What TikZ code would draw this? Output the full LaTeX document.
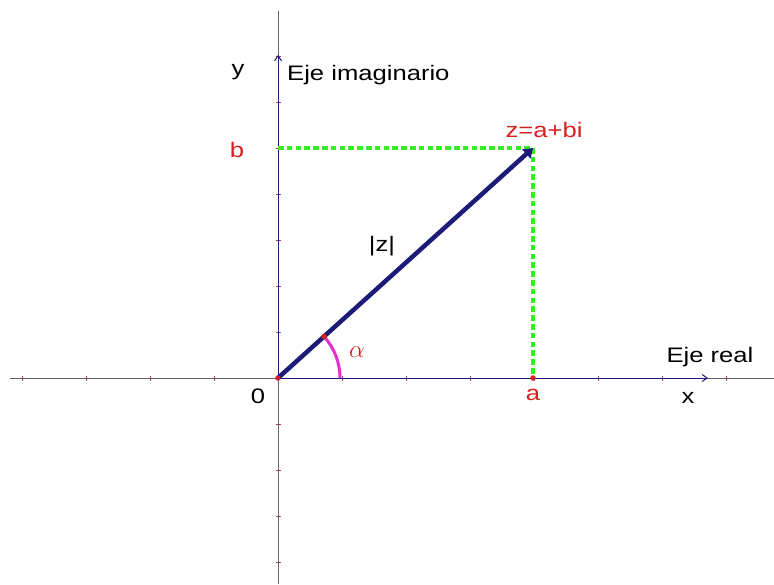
\documentclass[tikz,border=0pt]{standalone}
\usepackage{fontspec}
\setmainfont{Liberation Sans}
\usetikzlibrary{arrows.meta,calc}
\definecolor{axisgray}{HTML}{6E5E70}
\definecolor{navy}{HTML}{1C1C78}
\definecolor{vgreen}{HTML}{33EE22}
\definecolor{lred}{HTML}{D42020}
\definecolor{tickred}{HTML}{A04050}
\definecolor{arcmag}{HTML}{E030D0}
\tikzset{
  axisline/.style={axisgray, line width=1pt},
  axisarrow/.style={navy, line width=1pt, -{Straight Barb[length=5pt,width=7pt]}},
  tickmark/.style={tickred, line width=0.8pt},
  vec/.style={navy, line width=4.5pt, -{Triangle[length=9pt,width=12pt]}},
  proj/.style={vgreen, line width=4.5pt, dash pattern=on 5.5pt off 3.3pt},
  lbl/.style={inner sep=0pt, font=\fontsize{21}{21}\selectfont},
  rlbl/.style={lbl, text=lred},
  dotmark/.style={circle, fill=lred, inner sep=0pt, minimum size=5.5pt},
}
\newcommand{\wide}[1]{\scalebox{1.22}[1]{#1}}
\begin{document}
\begin{tikzpicture}[x=1pt,y=-1pt]
\useasboundingbox (0,0) rectangle (774,584);
\coordinate (O) at (278,378);
\coordinate (A) at (533,378);
\coordinate (B) at (278,148);
\coordinate (Z) at (533,148);
\coordinate (XL) at (10,378);
\coordinate (XR) at (774,378);
\coordinate (YT) at (278,11);
\coordinate (YB) at (278,584);
\coordinate (XA) at (708,378);
\coordinate (YA) at (278,55);
\coordinate (ArcS) at (340,378);
% axes
\draw[axisline] (XL) -- (XR);
\draw[axisline] (YT) -- (YB);
% ticks
\foreach \k in {-4,-3,-2,-1,1,2,3,4,5,6,7}
  \draw[tickmark] ($(O)+(64*\k,-2.5)$) -- ($(O)+(64*\k,2.5)$);
\foreach \k in {-4,-3,-2,-1,1,2,3,4,5,6,7}
  \draw[tickmark] ($(O)+(-2.5,-46*\k)$) -- ($(O)+(2.5,-46*\k)$);
\draw[axisarrow] (O) -- (XA);
\draw[axisarrow] (O) -- (YA);
% projections
\draw[proj] (B) -- (Z);
\draw[proj] (Z) -- (A);
% angle arc
\draw[arcmag, line width=3pt] (ArcS) arc[start angle=0, end angle=-42, radius=62];
% vector
\draw[vec] (O) -- (Z);
% dots
\node[dotmark] (dO) at (O) {};
\node[dotmark] (dA) at (A) {};
\node[dotmark] (dV) at ($(O)+(46,-41.5)$) {};
% labels
\node[lbl] (ylab) at (238,72) {\wide{y}};
\node[lbl, anchor=west] (ejei) at (287,75) {\wide{Eje imaginario}};
\node[rlbl] (blab) at (237,150) {\wide{b}};
\node[rlbl] (zlab) at (544,130) {\wide{z=a+bi}};
\node[lbl] (modz) at (382,246) {\wide{|z|}};
\node[rlbl, font=\fontsize{26}{26}\selectfont] (alab) at (357,352) {$\alpha$};
\node[lbl] (olab) at (258,396) {\wide{0}};
\node[rlbl] (alabel) at (533,395) {\wide{a}};
\node[lbl] (xlab) at (688,398) {\wide{x}};
\node[lbl] (ejer) at (710,357) {\wide{Eje real}};
\end{tikzpicture}
\end{document}
